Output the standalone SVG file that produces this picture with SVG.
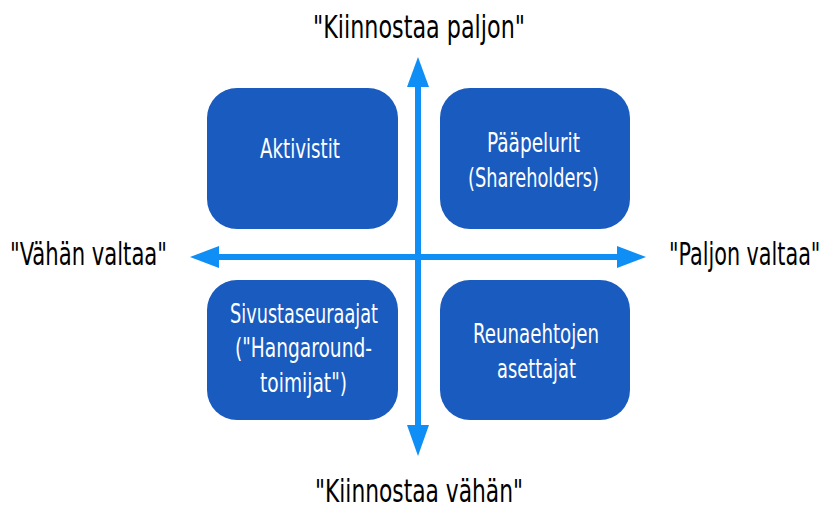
<svg xmlns="http://www.w3.org/2000/svg" width="830" height="509" viewBox="0 0 830 509">
<style>
.box{fill:#1a5bbf}
.bt{font-family:"DejaVu Sans Condensed","DejaVu Sans",sans-serif;font-stretch:condensed;font-size:26px;fill:#fff;text-anchor:middle}
.ax{font-family:"DejaVu Sans Condensed","DejaVu Sans",sans-serif;font-stretch:condensed;font-size:32px;fill:#000}
.ln{stroke:#0f8ef5;stroke-width:6;fill:none}
.hd{fill:#0f8ef5}
</style>
<rect width="830" height="509" fill="#fff"/>
<g id="connectors">
<line class="ln" x1="418" y1="80" x2="418" y2="430"/>
<line class="ln" x1="212" y1="257" x2="624" y2="257"/>
<polygon class="hd" points="418,57 429,87 407,87"/>
<polygon class="hd" points="418,456 429,425 407,425"/>
<polygon class="hd" points="190,257 219,246 219,268"/>
<polygon class="hd" points="646,257 617,246 617,268"/>
</g>
<g id="aktivistit">
<rect class="box" x="207" y="88" width="191" height="141" rx="30"/>
<text class="bt" x="300" y="158" textLength="80" lengthAdjust="spacingAndGlyphs">Aktivistit</text>
</g>
<g id="paapelurit">
<rect class="box" x="440" y="88" width="190" height="141" rx="30"/>
<text class="bt" x="533.5" y="152" textLength="93" lengthAdjust="spacingAndGlyphs">Pääpelurit</text>
<text class="bt" x="533.5" y="187" textLength="131" lengthAdjust="spacingAndGlyphs">(Shareholders)</text>
</g>
<g id="sivustaseuraajat">
<rect class="box" x="207" y="280" width="191" height="140" rx="30"/>
<text class="bt" x="304" y="323" textLength="148" lengthAdjust="spacingAndGlyphs">Sivustaseuraajat</text>
<text class="bt" x="303.5" y="357" textLength="137" lengthAdjust="spacingAndGlyphs">("Hangaround-</text>
<text class="bt" x="303.5" y="392" textLength="87" lengthAdjust="spacingAndGlyphs">toimijat")</text>
</g>
<g id="reunaehtojen">
<rect class="box" x="440" y="280" width="190" height="140" rx="30"/>
<text class="bt" x="536" y="343" textLength="126" lengthAdjust="spacingAndGlyphs">Reunaehtojen</text>
<text class="bt" x="536.5" y="378" textLength="79" lengthAdjust="spacingAndGlyphs">asettajat</text>
</g>
<g id="axis-labels">
<text class="ax" x="313" y="38" textLength="212" lengthAdjust="spacingAndGlyphs">"Kiinnostaa paljon"</text>
<text class="ax" x="315" y="502" textLength="208" lengthAdjust="spacingAndGlyphs">"Kiinnostaa vähän"</text>
<text class="ax" x="10" y="265" textLength="157" lengthAdjust="spacingAndGlyphs">"Vähän valtaa"</text>
<text class="ax" transform="translate(669,265) scale(0.72,1)" x="0" y="0">"Paljon valtaa"</text>
</g>
</svg>
